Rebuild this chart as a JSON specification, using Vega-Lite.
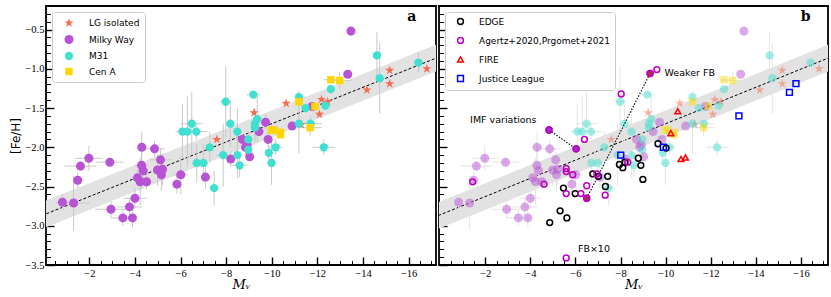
{
"$schema": "https://vega.github.io/schema/vega-lite/v6.json",
"padding": {"left": 9, "top": 4, "right": 4, "bottom": 0},
"background": "white",
"spacing": 0,
"config": {
  "view": {"stroke": "black", "strokeWidth": 1.8},
  "axis": {"domain": false, "grid": false, "tickColor": "black", "labelColor": "black", "titleColor": "black", "labelFlush": false, "labelOverlap": false, "labelFont": "Liberation Serif", "labelFontSize": 10.5},
  "legend": {"labelFont": "DejaVu Sans", "labelFontSize": 9, "labelColor": "black", "strokeColor": "#cccccc", "fillColor": "rgba(255,255,255,0.85)", "cornerRadius": 3, "padding": 5, "rowPadding": 6, "offset": 6, "labelOffset": 14, "symbolOffset": 6, "orient": "top-left", "title": null},
  "text": {"font": "DejaVu Sans", "fontSize": 9.5, "color": "black"}
},
"datasets": {
  "fit": [
    {"mv": 0.5, "mid": -2.918, "lo": -3.088, "hi": -2.748},
    {"mv": -17.5, "mid": -0.830, "lo": -1.0, "hi": -0.66}
  ],
  "obs": [
    {"g":"LG isolated","mv":-7.59,"feh":-1.90,"ex":0,"ey":0},
    {"g":"LG isolated","mv":-9.22,"feh":-1.56,"ex":0,"ey":0},
    {"g":"LG isolated","mv":-10.63,"feh":-1.44,"ex":0,"ey":0},
    {"g":"LG isolated","mv":-11.29,"feh":-1.71,"ex":0,"ey":0},
    {"g":"LG isolated","mv":-12.09,"feh":-1.58,"ex":0,"ey":0},
    {"g":"LG isolated","mv":-12.18,"feh":-1.39,"ex":0,"ey":0},
    {"g":"LG isolated","mv":-12.45,"feh":-1.42,"ex":0,"ey":0},
    {"g":"LG isolated","mv":-14.17,"feh":-1.27,"ex":0,"ey":0},
    {"g":"LG isolated","mv":-15.17,"feh":-1.02,"ex":0,"ey":0},
    {"g":"LG isolated","mv":-15.17,"feh":-1.19,"ex":0,"ey":0},
    {"g":"LG isolated","mv":-16.8,"feh":-1.0,"ex":0,"ey":0},
    {"g":"Milky Way","mv":-13.47,"feh":-0.52,"ex":0,"ey":0},
    {"g":"Milky Way","mv":-13.33,"feh":-1.07,"ex":0,"ey":0},
    {"g":"Milky Way","mv":-11.77,"feh":-1.48,"ex":0,"ey":0},
    {"g":"Milky Way","mv":-10.89,"feh":-1.73,"ex":0,"ey":0},
    {"g":"Milky Way","mv":-9.73,"feh":-1.68,"ex":0,"ey":0.1},
    {"g":"Milky Way","mv":-9.44,"feh":-1.80,"ex":0,"ey":0},
    {"g":"Milky Way","mv":-9.84,"feh":-1.90,"ex":0,"ey":0.1},
    {"g":"Milky Way","mv":-8.71,"feh":-1.90,"ex":0.2,"ey":0},
    {"g":"Milky Way","mv":-8.92,"feh":-1.97,"ex":0,"ey":0},
    {"g":"Milky Way","mv":-8.85,"feh":-2.0,"ex":0,"ey":0.1},
    {"g":"Milky Way","mv":-4.30,"feh":-2.0,"ex":0.2,"ey":0.2},
    {"g":"Milky Way","mv":-4.86,"feh":-2.02,"ex":0.45,"ey":0.1},
    {"g":"Milky Way","mv":-1.98,"feh":-2.14,"ex":0.6,"ey":0.16},
    {"g":"Milky Way","mv":-1.61,"feh":-2.24,"ex":0.7,"ey":0.05},
    {"g":"Milky Way","mv":-2.90,"feh":-2.19,"ex":0.6,"ey":0.05},
    {"g":"Milky Way","mv":-1.49,"feh":-2.42,"ex":0,"ey":0.1},
    {"g":"Milky Way","mv":-4.29,"feh":-2.23,"ex":0.3,"ey":0.3},
    {"g":"Milky Way","mv":-4.36,"feh":-2.30,"ex":0.2,"ey":0.1},
    {"g":"Milky Way","mv":-5.12,"feh":-2.16,"ex":0.5,"ey":0.15},
    {"g":"Milky Way","mv":-4.99,"feh":-2.29,"ex":0.2,"ey":0.2},
    {"g":"Milky Way","mv":-5.21,"feh":-2.28,"ex":0.2,"ey":0.2},
    {"g":"Milky Way","mv":-5.16,"feh":-2.35,"ex":0.2,"ey":0.2},
    {"g":"Milky Way","mv":-4.11,"feh":-2.39,"ex":0.3,"ey":0.1},
    {"g":"Milky Way","mv":-4.23,"feh":-2.44,"ex":0.2,"ey":0.3},
    {"g":"Milky Way","mv":-4.51,"feh":-2.44,"ex":0.3,"ey":0.1},
    {"g":"Milky Way","mv":-6.01,"feh":-2.35,"ex":0.3,"ey":0.25},
    {"g":"Milky Way","mv":-5.84,"feh":-2.47,"ex":0,"ey":0.12},
    {"g":"Milky Way","mv":-7.09,"feh":-2.38,"ex":0,"ey":0.15},
    {"g":"Milky Way","mv":-8.20,"feh":-2.15,"ex":0.2,"ey":0.1},
    {"g":"Milky Way","mv":-0.82,"feh":-2.70,"ex":0.3,"ey":0.1},
    {"g":"Milky Way","mv":-1.31,"feh":-2.71,"ex":0.7,"ey":0.35},
    {"g":"Milky Way","mv":-2.95,"feh":-2.79,"ex":0.7,"ey":0.1},
    {"g":"Milky Way","mv":-4.0,"feh":-2.65,"ex":0.5,"ey":0.13},
    {"g":"Milky Way","mv":-3.76,"feh":-2.76,"ex":0.55,"ey":0.1},
    {"g":"Milky Way","mv":-3.47,"feh":-2.90,"ex":0.55,"ey":0.1},
    {"g":"Milky Way","mv":-3.89,"feh":-2.90,"ex":0.1,"ey":0.12},
    {"g":"Milky Way","mv":-9.03,"feh":-2.12,"ex":0.15,"ey":0},
    {"g":"M31","mv":-14.61,"feh":-0.83,"ex":0,"ey":0.3},
    {"g":"M31","mv":-14.73,"feh":-1.12,"ex":0,"ey":0.45},
    {"g":"M31","mv":-16.43,"feh":-0.92,"ex":0,"ey":0.13},
    {"g":"M31","mv":-12.59,"feh":-1.26,"ex":0,"ey":0},
    {"g":"M31","mv":-12.35,"feh":-1.47,"ex":0,"ey":0},
    {"g":"M31","mv":-11.48,"feh":-1.50,"ex":0,"ey":0},
    {"g":"M31","mv":-11.19,"feh":-1.36,"ex":0,"ey":0.08},
    {"g":"M31","mv":-11.19,"feh":-1.70,"ex":0,"ey":0.38},
    {"g":"M31","mv":-11.70,"feh":-1.70,"ex":0.5,"ey":0.1},
    {"g":"M31","mv":-12.28,"feh":-2.0,"ex":0.5,"ey":0.1},
    {"g":"M31","mv":-9.19,"feh":-1.33,"ex":0.3,"ey":0},
    {"g":"M31","mv":-7.98,"feh":-1.42,"ex":0.25,"ey":0.45},
    {"g":"M31","mv":-8.18,"feh":-1.70,"ex":0,"ey":0.3},
    {"g":"M31","mv":-8.49,"feh":-1.80,"ex":0.2,"ey":0.3},
    {"g":"M31","mv":-9.36,"feh":-1.64,"ex":0,"ey":0.3},
    {"g":"M31","mv":-9.26,"feh":-1.70,"ex":0,"ey":0.2},
    {"g":"M31","mv":-9.26,"feh":-1.75,"ex":0,"ey":0.2},
    {"g":"M31","mv":-6.49,"feh":-1.70,"ex":0.47,"ey":0.4},
    {"g":"M31","mv":-6.08,"feh":-1.80,"ex":0.3,"ey":0.35},
    {"g":"M31","mv":-6.30,"feh":-1.80,"ex":0.3,"ey":0.45},
    {"g":"M31","mv":-6.69,"feh":-1.80,"ex":0.47,"ey":0.1},
    {"g":"M31","mv":-7.28,"feh":-2.0,"ex":0.2,"ey":0.2},
    {"g":"M31","mv":-8.97,"feh":-1.90,"ex":0.2,"ey":0.1},
    {"g":"M31","mv":-8.97,"feh":-2.03,"ex":0,"ey":0.1},
    {"g":"M31","mv":-10.17,"feh":-2.0,"ex":0.3,"ey":0.1},
    {"g":"M31","mv":-9.87,"feh":-2.07,"ex":0.1,"ey":0.1},
    {"g":"M31","mv":-9.99,"feh":-2.20,"ex":0.2,"ey":0.28},
    {"g":"M31","mv":-7.87,"feh":-2.10,"ex":0.3,"ey":0.4},
    {"g":"M31","mv":-8.49,"feh":-2.10,"ex":0.2,"ey":0.3},
    {"g":"M31","mv":-8.59,"feh":-2.23,"ex":0.35,"ey":0.15},
    {"g":"M31","mv":-6.71,"feh":-2.20,"ex":0.2,"ey":0.25},
    {"g":"M31","mv":-7.0,"feh":-2.20,"ex":0.2,"ey":0.24},
    {"g":"M31","mv":-7.47,"feh":-2.52,"ex":0.2,"ey":0.22},
    {"g":"Cen A","mv":-12.59,"feh":-1.14,"ex":0.3,"ey":0},
    {"g":"Cen A","mv":-12.98,"feh":-1.15,"ex":0.5,"ey":0.11},
    {"g":"Cen A","mv":-11.19,"feh":-1.42,"ex":0,"ey":0},
    {"g":"Cen A","mv":-11.89,"feh":-1.48,"ex":0,"ey":0},
    {"g":"Cen A","mv":-11.68,"feh":-1.75,"ex":0.5,"ey":0.1},
    {"g":"Cen A","mv":-9.99,"feh":-1.78,"ex":0,"ey":0},
    {"g":"Cen A","mv":-10.1,"feh":-1.78,"ex":0,"ey":0},
    {"g":"Cen A","mv":-10.38,"feh":-1.81,"ex":0,"ey":0},
    {"g":"Cen A","mv":-10.38,"feh":-1.84,"ex":0,"ey":0}
  ],
  "sims": [
    {"sim":"EDGE","mv":-9.66,"feh":-1.955,"v":""},
    {"sim":"EDGE","mv":-10.02,"feh":-2.01,"v":""},
    {"sim":"EDGE","mv":-7.95,"feh":-2.22,"v":""},
    {"sim":"EDGE","mv":-8.10,"feh":-2.26,"v":""},
    {"sim":"EDGE","mv":-8.20,"feh":-2.19,"v":""},
    {"sim":"EDGE","mv":-8.79,"feh":-2.14,"v":""},
    {"sim":"EDGE","mv":-8.90,"feh":-2.23,"v":""},
    {"sim":"EDGE","mv":-8.99,"feh":-2.41,"v":""},
    {"sim":"EDGE","mv":-6.77,"feh":-2.34,"v":""},
    {"sim":"EDGE","mv":-7.02,"feh":-2.37,"v":""},
    {"sim":"EDGE","mv":-7.43,"feh":-2.37,"v":""},
    {"sim":"EDGE","mv":-7.33,"feh":-2.50,"v":""},
    {"sim":"EDGE","mv":-5.47,"feh":-2.52,"v":""},
    {"sim":"EDGE","mv":-5.99,"feh":-2.59,"v":""},
    {"sim":"EDGE","mv":-5.32,"feh":-2.81,"v":""},
    {"sim":"EDGE","mv":-5.62,"feh":-2.90,"v":""},
    {"sim":"EDGE","mv":-4.86,"feh":-2.96,"v":""},
    {"sim":"Agertz+2020,Prgomet+2021","mv":-9.61,"feh":-1.01,"v":""},
    {"sim":"Agertz+2020,Prgomet+2021","mv":-8.03,"feh":-1.32,"v":""},
    {"sim":"Agertz+2020,Prgomet+2021","mv":-6.40,"feh":-1.90,"v":""},
    {"sim":"Agertz+2020,Prgomet+2021","mv":-1.44,"feh":-2.44,"v":""},
    {"sim":"Agertz+2020,Prgomet+2021","mv":-4.61,"feh":-2.47,"v":""},
    {"sim":"Agertz+2020,Prgomet+2021","mv":-5.59,"feh":-2.27,"v":""},
    {"sim":"Agertz+2020,Prgomet+2021","mv":-5.59,"feh":-2.31,"v":""},
    {"sim":"Agertz+2020,Prgomet+2021","mv":-5.88,"feh":-2.35,"v":""},
    {"sim":"Agertz+2020,Prgomet+2021","mv":-5.59,"feh":-2.59,"v":""},
    {"sim":"Agertz+2020,Prgomet+2021","mv":-6.24,"feh":-2.59,"v":""},
    {"sim":"Agertz+2020,Prgomet+2021","mv":-6.50,"feh":-2.49,"v":""},
    {"sim":"Agertz+2020,Prgomet+2021","mv":-6.95,"feh":-2.34,"v":""},
    {"sim":"Agertz+2020,Prgomet+2021","mv":-7.32,"feh":-2.61,"v":""},
    {"sim":"Agertz+2020,Prgomet+2021","mv":-8.32,"feh":-2.19,"v":""},
    {"sim":"Agertz+2020,Prgomet+2021","mv":-5.59,"feh":-3.41,"v":""},
    {"sim":"Agertz+2020,Prgomet+2021","mv":-4.83,"feh":-1.78,"v":"IMF"},
    {"sim":"Agertz+2020,Prgomet+2021","mv":-6.03,"feh":-2.02,"v":"IMF"},
    {"sim":"Agertz+2020,Prgomet+2021","mv":-9.31,"feh":-1.06,"v":"FB"},
    {"sim":"Agertz+2020,Prgomet+2021","mv":-6.50,"feh":-2.65,"v":"FB"},
    {"sim":"FIRE","mv":-10.54,"feh":-1.54,"v":""},
    {"sim":"FIRE","mv":-10.23,"feh":-1.82,"v":""},
    {"sim":"FIRE","mv":-10.68,"feh":-2.15,"v":""},
    {"sim":"FIRE","mv":-10.88,"feh":-2.13,"v":""},
    {"sim":"Justice League","mv":-15.78,"feh":-1.19,"v":""},
    {"sim":"Justice League","mv":-15.49,"feh":-1.30,"v":""},
    {"sim":"Justice League","mv":-13.25,"feh":-1.60,"v":""},
    {"sim":"Justice League","mv":-9.90,"feh":-2.0,"v":""},
    {"sim":"Justice League","mv":-8.01,"feh":-2.10,"v":""}
  ],
  "notes": [
    {"t":"IMF variations","mv":-1.33,"feh":-1.657},
    {"t":"Weaker FB","mv":-9.95,"feh":-1.053},
    {"t":"FB×10","mv":-6.11,"feh":-3.296}
  ],
  "panels": [
    {"p":"a","mv":-16.14,"feh":-0.34},
    {"p":"b","mv":-16.21,"feh":-0.34}
  ]
},
"resolve": {"scale": {"color": "independent", "shape": "independent", "size": "independent"}},
"hconcat": [
  {
    "width": 390, "height": 259,
    "resolve": {"axis": {"x": "independent", "y": "independent"}},
    "layer": [
      {"data": {"name": "fit"}, "mark": {"type": "area", "color": "#e2e2e2", "clip": true},
       "encoding": {
         "x": {"field": "mv", "type": "quantitative", "scale": {"domain": [-0.1, -17.2], "nice": false, "zero": false},
               "axis": {"orient": "bottom", "title": "Mᵥ", "values": [-2,-4,-6,-8,-10,-12,-14,-16], "format": "d",
                        "tickSize": -8, "tickWidth": 1.4, "labelPadding": 11,
                        "titleFont": "DejaVu Serif", "titleFontStyle": "italic", "titleFontWeight": "normal", "titleFontSize": 13, "titlePadding": 0}},
         "y": {"field": "lo", "type": "quantitative", "scale": {"domain": [-3.5, -0.2], "nice": false, "zero": false},
               "axis": {"orient": "left", "title": "[Fe/H]", "values": [-3.5,-3.0,-2.5,-2.0,-1.5,-1.0,-0.5], "format": ".1f",
                        "tickSize": -8, "tickWidth": 1.4, "labelPadding": 10,
                        "titleFont": "DejaVu Sans", "titleFontWeight": "normal", "titleFontSize": 12, "titlePadding": 2}},
         "y2": {"field": "hi"}
       }},
      {"data": {"name": "fit"}, "mark": {"type": "line", "color": "black", "strokeDash": [3, 2], "strokeWidth": 1, "clip": true},
       "encoding": {
         "x": {"field": "mv", "type": "quantitative", "axis": {"orient": "bottom", "title": null, "labels": false, "tickSize": -4.5, "tickWidth": 1,
               "values": [-0.5,-1,-1.5,-2.5,-3,-3.5,-4.5,-5,-5.5,-6.5,-7,-7.5,-8.5,-9,-9.5,-10.5,-11,-11.5,-12.5,-13,-13.5,-14.5,-15,-15.5,-16.5,-17]}},
         "y": {"field": "mid", "type": "quantitative", "axis": {"orient": "left", "title": null, "labels": false, "tickSize": -4.5, "tickWidth": 1,
               "values": [-3.4,-3.3,-3.2,-3.1,-2.9,-2.8,-2.7,-2.6,-2.4,-2.3,-2.2,-2.1,-1.9,-1.8,-1.7,-1.6,-1.4,-1.3,-1.2,-1.1,-0.9,-0.8,-0.7,-0.6,-0.4,-0.3,-0.2]}}}},
      {"data": {"name": "obs"}, "mark": {"type": "errorbar", "color": "#c8c8c8", "thickness": 1},
       "encoding": {"x": {"field": "mv", "type": "quantitative", "axis": null}, "xError": {"field": "ex"}, "y": {"field": "feh", "type": "quantitative", "axis": null}}},
      {"data": {"name": "obs"}, "mark": {"type": "errorbar", "color": "#c8c8c8", "thickness": 1},
       "encoding": {"y": {"field": "feh", "type": "quantitative", "axis": null}, "yError": {"field": "ey"}, "x": {"field": "mv", "type": "quantitative", "axis": null}}},
      {"data": {"name": "obs"}, "mark": {"type": "point", "filled": true, "opacity": 1, "strokeWidth": 0},
       "encoding": {
         "x": {"field": "mv", "type": "quantitative", "axis": null},
         "y": {"field": "feh", "type": "quantitative", "axis": null},
         "color": {"field": "g", "type": "nominal", "scale": {"domain": ["LG isolated", "Milky Way", "M31", "Cen A"], "range": ["#fb6a4e", "#b853d6", "#40e0d0", "#ffd700"]}, "legend": {"title": null}},
         "shape": {"field": "g", "type": "nominal", "scale": {"domain": ["LG isolated", "Milky Way", "M31", "Cen A"], "range": ["M0,-1L0.2245,-0.309L0.9511,-0.309L0.3633,0.118L0.5878,0.809L0,0.382L-0.5878,0.809L-0.3633,0.118L-0.9511,-0.309L-0.2245,-0.309Z", "circle", "circle", "square"]}, "legend": {"title": null}},
         "size": {"field": "g", "type": "nominal", "scale": {"domain": ["LG isolated", "Milky Way", "M31", "Cen A"], "range": [95, 55, 30, 40]}, "legend": {"title": null}}
       }},
      {"data": {"name": "panels"}, "transform": [{"filter": "datum.p === 'a'"}],
       "mark": {"type": "text", "font": "DejaVu Serif", "fontWeight": "bold", "fontSize": 14, "align": "center", "baseline": "middle"},
       "encoding": {"x": {"field": "mv", "type": "quantitative", "axis": null}, "y": {"field": "feh", "type": "quantitative", "axis": null}, "text": {"field": "p"}}}
    ]
  },
  {
    "width": 389, "height": 259,
    "resolve": {"scale": {"color": "independent", "shape": "independent", "size": "independent"}, "axis": {"x": "independent", "y": "independent"}},
    "layer": [
      {"data": {"name": "fit"}, "mark": {"type": "area", "color": "#e2e2e2", "clip": true},
       "encoding": {
         "x": {"field": "mv", "type": "quantitative", "scale": {"domain": [0.05, -17.2], "nice": false, "zero": false},
               "axis": {"orient": "bottom", "title": "Mᵥ", "values": [-2,-4,-6,-8,-10,-12,-14,-16], "format": "d",
                        "tickSize": -8, "tickWidth": 1.4, "labelPadding": 11,
                        "titleFont": "DejaVu Serif", "titleFontStyle": "italic", "titleFontWeight": "normal", "titleFontSize": 13, "titlePadding": 0}},
         "y": {"field": "lo", "type": "quantitative", "scale": {"domain": [-3.5, -0.2], "nice": false, "zero": false},
               "axis": {"orient": "left", "title": null, "labels": false, "values": [-3.5,-3.0,-2.5,-2.0,-1.5,-1.0,-0.5], "tickSize": -8, "tickWidth": 1.4}},
         "y2": {"field": "hi"}
       }},
      {"data": {"name": "fit"}, "mark": {"type": "line", "color": "black", "strokeDash": [3, 2], "strokeWidth": 1, "clip": true},
       "encoding": {
         "x": {"field": "mv", "type": "quantitative", "axis": {"orient": "bottom", "title": null, "labels": false, "tickSize": -4.5, "tickWidth": 1,
               "values": [-0.5,-1,-1.5,-2.5,-3,-3.5,-4.5,-5,-5.5,-6.5,-7,-7.5,-8.5,-9,-9.5,-10.5,-11,-11.5,-12.5,-13,-13.5,-14.5,-15,-15.5,-16.5,-17]}},
         "y": {"field": "mid", "type": "quantitative", "axis": {"orient": "left", "title": null, "labels": false, "tickSize": -4.5, "tickWidth": 1,
               "values": [-3.4,-3.3,-3.2,-3.1,-2.9,-2.8,-2.7,-2.6,-2.4,-2.3,-2.2,-2.1,-1.9,-1.8,-1.7,-1.6,-1.4,-1.3,-1.2,-1.1,-0.9,-0.8,-0.7,-0.6,-0.4,-0.3,-0.2]}}}},
      {"data": {"name": "obs"}, "mark": {"type": "errorbar", "color": "#e4e4e4", "thickness": 1},
       "encoding": {"x": {"field": "mv", "type": "quantitative", "axis": null}, "xError": {"field": "ex"}, "y": {"field": "feh", "type": "quantitative", "axis": null}}},
      {"data": {"name": "obs"}, "mark": {"type": "errorbar", "color": "#e4e4e4", "thickness": 1},
       "encoding": {"y": {"field": "feh", "type": "quantitative", "axis": null}, "yError": {"field": "ey"}, "x": {"field": "mv", "type": "quantitative", "axis": null}}},
      {"data": {"name": "obs"}, "mark": {"type": "point", "filled": true, "opacity": 0.5, "strokeWidth": 0},
       "encoding": {
         "x": {"field": "mv", "type": "quantitative", "axis": null},
         "y": {"field": "feh", "type": "quantitative", "axis": null},
         "color": {"field": "g", "type": "nominal", "scale": {"domain": ["LG isolated", "Milky Way", "M31", "Cen A"], "range": ["#fb6a4e", "#b853d6", "#40e0d0", "#ffd700"]}, "legend": null},
         "shape": {"field": "g", "type": "nominal", "scale": {"domain": ["LG isolated", "Milky Way", "M31", "Cen A"], "range": ["M0,-1L0.2245,-0.309L0.9511,-0.309L0.3633,0.118L0.5878,0.809L0,0.382L-0.5878,0.809L-0.3633,0.118L-0.9511,-0.309L-0.2245,-0.309Z", "circle", "circle", "square"]}, "legend": null},
         "size": {"field": "g", "type": "nominal", "scale": {"domain": ["LG isolated", "Milky Way", "M31", "Cen A"], "range": [95, 55, 30, 40]}, "legend": null}
       }},
      {"data": {"name": "sims"}, "transform": [{"filter": "datum.v !== ''"}],
       "mark": {"type": "line", "color": "black", "strokeDash": [1.5, 1.5], "strokeWidth": 1.1},
       "encoding": {"x": {"field": "mv", "type": "quantitative", "axis": null}, "y": {"field": "feh", "type": "quantitative", "axis": null}, "detail": {"field": "v"}}},
      {"data": {"name": "sims"},
       "mark": {"type": "point", "filled": false, "strokeWidth": 1.5, "opacity": 1},
       "encoding": {
         "x": {"field": "mv", "type": "quantitative", "axis": null},
         "y": {"field": "feh", "type": "quantitative", "axis": null},
         "color": {"field": "sim", "type": "nominal", "scale": {"domain": ["EDGE", "Agertz+2020,Prgomet+2021", "FIRE", "Justice League"], "range": ["black", "#bf00bf", "red", "blue"]}, "legend": {"title": null, "symbolStrokeWidth": 1.5}},
         "shape": {"field": "sim", "type": "nominal", "scale": {"domain": ["EDGE", "Agertz+2020,Prgomet+2021", "FIRE", "Justice League"], "range": ["circle", "circle", "triangle-up", "square"]}, "legend": {"title": null}},
         "size": {"field": "sim", "type": "nominal", "scale": {"domain": ["EDGE", "Agertz+2020,Prgomet+2021", "FIRE", "Justice League"], "range": [34, 34, 34, 32]}, "legend": {"title": null}}
       }},
      {"data": {"name": "sims"}, "transform": [{"filter": "datum.v === 'IMF'"}],
       "mark": {"type": "point", "filled": true, "fill": "#9932cc", "stroke": "#bf00bf", "strokeWidth": 1.5, "size": 34, "opacity": 1},
       "encoding": {"x": {"field": "mv", "type": "quantitative", "axis": null}, "y": {"field": "feh", "type": "quantitative", "axis": null}}},
      {"data": {"name": "sims"}, "transform": [{"filter": "datum.v === 'FB'"}],
       "mark": {"type": "point", "filled": true, "fill": "#a8324a", "stroke": "#bf00bf", "strokeWidth": 1.5, "size": 34, "opacity": 1},
       "encoding": {"x": {"field": "mv", "type": "quantitative", "axis": null}, "y": {"field": "feh", "type": "quantitative", "axis": null}}},
      {"data": {"name": "notes"},
       "mark": {"type": "text", "align": "left", "baseline": "middle", "font": "DejaVu Sans", "fontSize": 9.5},
       "encoding": {"x": {"field": "mv", "type": "quantitative", "axis": null}, "y": {"field": "feh", "type": "quantitative", "axis": null}, "text": {"field": "t"}}},
      {"data": {"name": "panels"}, "transform": [{"filter": "datum.p === 'b'"}],
       "mark": {"type": "text", "font": "DejaVu Serif", "fontWeight": "bold", "fontSize": 14, "align": "center", "baseline": "middle"},
       "encoding": {"x": {"field": "mv", "type": "quantitative", "axis": null}, "y": {"field": "feh", "type": "quantitative", "axis": null}, "text": {"field": "p"}}}
    ]
  }
]
}
